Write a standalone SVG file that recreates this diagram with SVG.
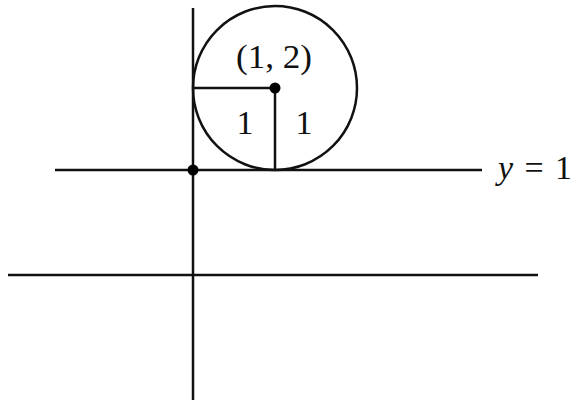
<svg xmlns="http://www.w3.org/2000/svg" width="574" height="403" viewBox="0 0 574 403">
<style>
.ln{stroke:#111;stroke-width:2.5;fill:none}
.dot{fill:#000}
</style>
<rect width="574" height="403" fill="#fff"/>
<g id="axes">
<line class="ln" x1="193" y1="8" x2="193" y2="400"/>
<line class="ln" x1="8" y1="275" x2="538" y2="275"/>
<line class="ln" x1="55" y1="170" x2="482" y2="170"/>
</g>
<g id="circle">
<circle class="ln" cx="275" cy="88" r="82"/>
<line class="ln" x1="193" y1="88" x2="275" y2="88"/>
<line class="ln" x1="275" y1="88" x2="275" y2="170"/>
<circle class="dot" cx="275" cy="88" r="5.5"/>
<circle class="dot" cx="193" cy="170" r="5.5"/>
</g>
<g id="labels" font-family="'Liberation Serif', 'Times New Roman', serif" font-size="34" fill="#111">
<text x="236" y="68" textLength="76" lengthAdjust="spacingAndGlyphs">(1, 2)</text>
<text x="245" y="134" text-anchor="middle">1</text>
<text x="304" y="134" text-anchor="middle">1</text>
<text x="498" y="179" textLength="74" lengthAdjust="spacing"><tspan font-style="italic">y</tspan> = 1</text>
</g>
</svg>
